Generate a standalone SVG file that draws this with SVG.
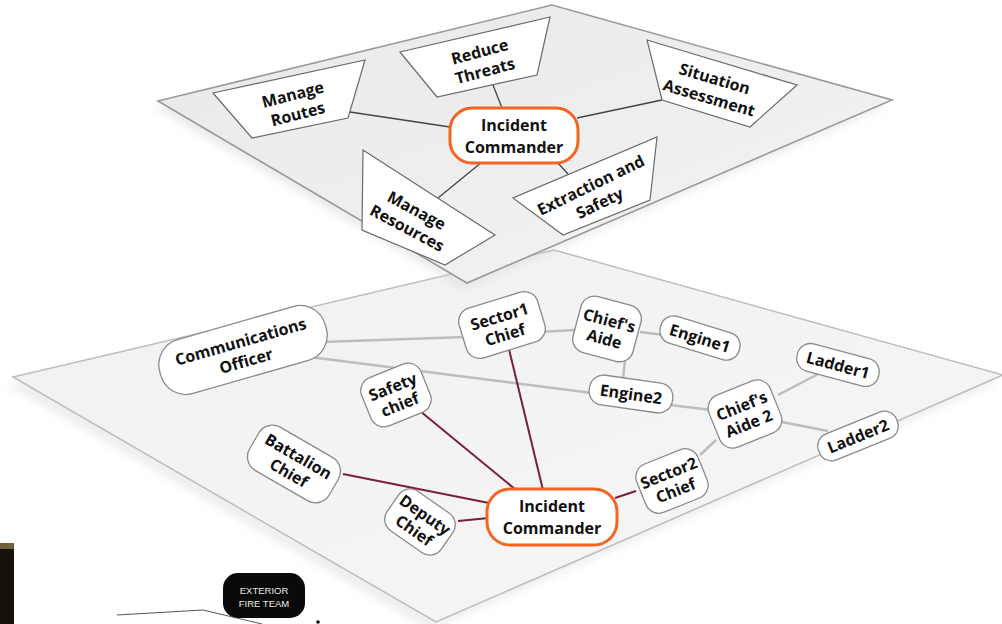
<svg xmlns="http://www.w3.org/2000/svg" width="1002" height="624" viewBox="0 0 1002 624">
<defs>
<linearGradient id="gTop" x1="0" y1="0" x2="1" y2="1">
<stop offset="0" stop-color="#e9e9e9"/><stop offset="1" stop-color="#f3f3f3"/>
</linearGradient>
<linearGradient id="gMid" x1="0" y1="0" x2="1" y2="1">
<stop offset="0" stop-color="#f1f1f1"/><stop offset="1" stop-color="#f6f6f6"/>
</linearGradient>
<filter id="blur" x="-10%" y="-10%" width="120%" height="120%"><feGaussianBlur stdDeviation="4"/></filter>
<style>
.t{font-family:"Open Sans","Noto Sans","DejaVu Sans",sans-serif;font-weight:700;font-size:16px;fill:#111;text-anchor:middle}
.trap{fill:#fff;stroke:#6a6a6a;stroke-width:1.2}
.node{fill:#fff;stroke:#8a8a8a;stroke-width:1.3}
.ic{fill:#fff;stroke:#f26522;stroke-width:3}
.ct{stroke:#454545;stroke-width:1.3;fill:none}
.cg{stroke:#bdbdbd;stroke-width:2.5;fill:none}
.cr{stroke:#7a1f3a;stroke-width:2;fill:none}
</style>
</defs>
<rect width="1002" height="624" fill="#fff"/>
<g id="planes">
<polygon points="13,377 554,250 1003,375 436,622" fill="#dadada" opacity="0.45" filter="url(#blur)" transform="translate(-6,8)"/>
<polygon points="13,377 554,250 1003,375 436,622" fill="url(#gMid)" stroke="#bdbdbd" stroke-width="1.5"/>
<polygon points="158,101 552,5 892,100 467,283" fill="#d4d4d4" opacity="0.45" filter="url(#blur)" transform="translate(-4,6)"/>
<polygon points="158,101 552,5 892,100 467,283" fill="url(#gTop)" stroke="#9a9a9a" stroke-width="1.6"/>
</g>
<g id="connectors">
<line class="ct" x1="350" y1="112" x2="450" y2="127"/>
<line class="ct" x1="493" y1="85" x2="502" y2="108"/>
<line class="ct" x1="438" y1="198" x2="482" y2="162"/>
<line class="ct" x1="577" y1="118" x2="662" y2="100"/>
<line class="ct" x1="557" y1="162" x2="568" y2="174"/>
<line class="cg" x1="322" y1="342" x2="465" y2="337"/>
<line class="cg" x1="310" y1="357" x2="592" y2="393"/>
<line class="cg" x1="540" y1="332" x2="575" y2="330"/>
<line class="cg" x1="640" y1="332" x2="664" y2="335"/>
<line class="cg" x1="625" y1="360" x2="623" y2="380"/>
<line class="cg" x1="670" y1="405" x2="712" y2="410"/>
<line class="cg" x1="778" y1="395" x2="822" y2="372"/>
<line class="cg" x1="782" y1="422" x2="828" y2="431"/>
<line class="cg" x1="716" y1="440" x2="700" y2="455"/>
<line class="cr" x1="508" y1="345" x2="543" y2="490"/>
<line class="cr" x1="420" y1="411" x2="516" y2="490"/>
<line class="cr" x1="343" y1="474" x2="489" y2="503"/>
<line class="cr" x1="458" y1="521" x2="489" y2="518"/>
<line class="cr" x1="615" y1="498" x2="636" y2="491"/>
</g>
<g id="manage-routes">
<polygon class="trap" points="213,93 365,60 348,118 252,138"/>
<text class="t" transform="translate(295,103) rotate(-14.5)"><tspan x="0" y="-3">Manage</tspan><tspan x="0" y="17">Routes</tspan></text>
</g>
<g id="reduce-threats">
<polygon class="trap" points="400,52 550,17 537,75 437,97"/>
<text class="t" transform="translate(482,60) rotate(-15)"><tspan x="0" y="-3">Reduce</tspan><tspan x="0" y="17">Threats</tspan></text>
</g>
<g id="situation-assessment">
<polygon class="trap" points="647,40 797,85 750,127 662,100"/>
<text class="t" transform="translate(712,88) rotate(16.5)"><tspan x="0" y="-4">Situation</tspan><tspan x="0" y="16">Assessment</tspan></text>
</g>
<g id="manage-resources">
<polygon class="trap" points="363,150 495,235 445,265 362,230"/>
<text class="t" transform="translate(412,219) rotate(28)"><tspan x="0" y="-4">Manage</tspan><tspan x="0" y="16">Resources</tspan></text>
</g>
<g id="extraction-safety">
<polygon class="trap" points="657,137 650,200 563,235 513,198"/>
<text class="t" transform="translate(595,194) rotate(-26)"><tspan x="0" y="-4">Extraction and</tspan><tspan x="0" y="16">Safety</tspan></text>
</g>
<g id="ic-top">
<rect class="ic" x="450" y="108" width="128" height="55" rx="22"/>
<text class="t"><tspan x="514" y="131">Incident</tspan><tspan x="514" y="153">Commander</tspan></text>
</g>
<g id="communications-officer" transform="translate(243,350) rotate(-16)">
<rect class="node" x="-86" y="-28" width="172" height="56" rx="26"/>
<text class="t"><tspan x="0" y="-3">Communications</tspan><tspan x="0" y="17">Officer</tspan></text>
</g>
<g id="sector1-chief" transform="translate(502,325) rotate(-17)">
<rect class="node" x="-41" y="-26" width="82" height="52" rx="14"/>
<text class="t"><tspan x="0" y="-3">Sector1</tspan><tspan x="0" y="16">Chief</tspan></text>
</g>
<g id="chiefs-aide" transform="translate(607,329) rotate(15)">
<rect class="node" x="-31" y="-29" width="62" height="58" rx="14"/>
<text class="t"><tspan x="0" y="-3">Chief's</tspan><tspan x="0" y="16">Aide</tspan></text>
</g>
<g id="engine1" transform="translate(700,338) rotate(17)">
<rect class="node" x="-41" y="-14" width="82" height="28" rx="13"/>
<text class="t" y="6">Engine1</text>
</g>
<g id="safety-chief" transform="translate(396,395) rotate(-22)">
<rect class="node" x="-32" y="-26" width="64" height="52" rx="14"/>
<text class="t"><tspan x="0" y="-3">Safety</tspan><tspan x="0" y="16">chief</tspan></text>
</g>
<g id="engine2" transform="translate(631,394) rotate(8)">
<rect class="node" x="-42" y="-15" width="84" height="30" rx="14"/>
<text class="t" y="6">Engine2</text>
</g>
<g id="chiefs-aide-2" transform="translate(745,414) rotate(-22)">
<rect class="node" x="-33" y="-28" width="66" height="56" rx="14"/>
<text class="t"><tspan x="0" y="-3">Chief's</tspan><tspan x="0" y="16">Aide 2</tspan></text>
</g>
<g id="ladder1" transform="translate(838,365) rotate(15)">
<rect class="node" x="-42" y="-14" width="84" height="28" rx="13"/>
<text class="t" y="6">Ladder1</text>
</g>
<g id="ladder2" transform="translate(858,436) rotate(-22)">
<rect class="node" x="-42" y="-14" width="84" height="28" rx="13"/>
<text class="t" y="6">Ladder2</text>
</g>
<g id="battalion-chief" transform="translate(294,464) rotate(30)">
<rect class="node" x="-46" y="-25" width="92" height="50" rx="16"/>
<text class="t"><tspan x="0" y="-3">Battalion</tspan><tspan x="0" y="16">Chief</tspan></text>
</g>
<g id="deputy-chief" transform="translate(420,522) rotate(35)">
<rect class="node" x="-33" y="-24" width="66" height="48" rx="14"/>
<text class="t"><tspan x="0" y="-3">Deputy</tspan><tspan x="0" y="16">Chief</tspan></text>
</g>
<g id="sector2-chief" transform="translate(672,481) rotate(-22)">
<rect class="node" x="-33" y="-26" width="66" height="52" rx="14"/>
<text class="t"><tspan x="0" y="-3">Sector2</tspan><tspan x="0" y="16">Chief</tspan></text>
</g>
<g id="ic-middle">
<rect class="ic" x="487" y="489" width="130" height="56" rx="23"/>
<text class="t"><tspan x="552" y="512">Incident</tspan><tspan x="552" y="534">Commander</tspan></text>
</g>
<g id="bottom-fragment">
<rect x="0" y="543" width="14" height="81" fill="#15120c"/>
<rect x="0" y="543" width="14" height="6" fill="#6e6236"/>
<polyline points="117,615 203,610 262,624" fill="none" stroke="#555" stroke-width="1"/>
<circle cx="318" cy="622" r="1.8" fill="#111"/>
</g>
<g id="exterior-fire-team">
<rect x="223" y="573" width="82" height="45" rx="15" fill="#0a0a0a"/>
<text x="264" y="594" font-family="Liberation Sans, Arial, sans-serif" font-size="9.5" fill="#e8e8e8" text-anchor="middle">EXTERIOR</text>
<text x="264" y="607" font-family="Liberation Sans, Arial, sans-serif" font-size="9.5" fill="#e8e8e8" text-anchor="middle">FIRE TEAM</text>
</g>
</svg>
